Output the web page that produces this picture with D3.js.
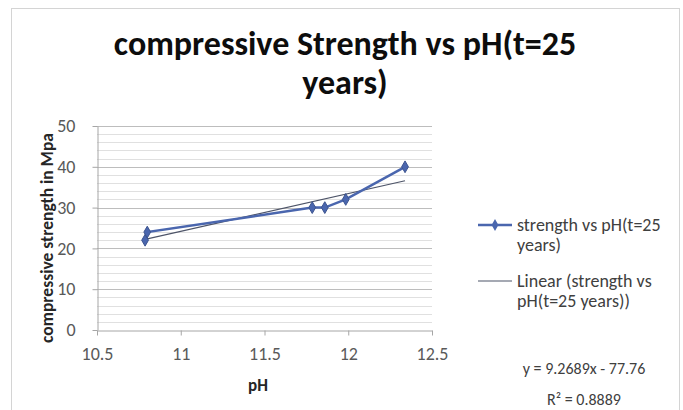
<!DOCTYPE html>
<html>
<head>
<meta charset="utf-8">
<script src="https://cdn.jsdelivr.net/npm/d3@7"></script>
<style>
  body { margin: 0; background: #fff; }
  text { font-family: Calibri, Carlito, Lato, "Open Sans", sans-serif; }
</style>
</head>
<body>
<div id="chart"></div>
<script>
// values
const phValues = [10.787, 10.8, 11.785, 11.86, 11.985, 12.339];
const strengthValues = [22, 24, 30, 30, 32, 40];
const xTicks = [10.5, 11, 11.5, 12, 12.5];
const yTicks = [0, 10, 20, 30, 40, 50];
const titleLines = ["compressive Strength vs pH(t=25", "years)"];
const legendLabels = [["strength vs pH(t=25", "years)"], ["Linear (strength vs", "pH(t=25 years))"]];
const equationLines = ["y = 9.2689x - 77.76", "R\u00b2 = 0.8889"];

const data = phValues.map((p, i) => ({ ph: p, strength: strengthValues[i] }));

const W = 683, H = 410;
const plot = { left: 97, right: 432, top: 126, bottom: 330 };
const seriesColor = "#4a66ae";
const trendColor = "#4d5468";

const svg = d3.select("#chart").append("svg")
    .attr("width", W)
    .attr("height", H);

// chart area border
svg.append("rect")
    .attr("x", 11.5).attr("y", 8.5)
    .attr("width", 668).attr("height", 420)
    .attr("fill", "#fff")
    .attr("stroke", "#d4d4d4");

const x = d3.scaleLinear().domain([10.5, 12.5]).range([plot.left, plot.right]);
const y = d3.scaleLinear().domain([0, 50]).range([plot.bottom, plot.top]);

// gridlines: minor every 2, major every 10
const minor = d3.range(2, 51, 2).filter(v => v % 10 !== 0);
svg.append("g").selectAll("line")
    .data(minor)
  .enter().append("line")
    .attr("x1", plot.left).attr("x2", plot.right)
    .attr("y1", d => Math.round(y(d)) + 0.5).attr("y2", d => Math.round(y(d)) + 0.5)
    .attr("stroke", "#e0e0e0");
svg.append("g").selectAll("line")
    .data(yTicks.filter(v => v > 0))
  .enter().append("line")
    .attr("x1", plot.left).attr("x2", plot.right)
    .attr("y1", d => Math.round(y(d)) + 0.5).attr("y2", d => Math.round(y(d)) + 0.5)
    .attr("stroke", "#bdbdbd");

// axes
const xAxis = svg.append("g")
    .attr("transform", "translate(0," + (plot.bottom + 0.5) + ")")
    .call(d3.axisBottom(x).tickValues(xTicks).tickSize(5).tickSizeOuter(0).tickPadding(12).tickFormat(d3.format("")));
const yAxis = svg.append("g")
    .attr("transform", "translate(" + (plot.left + 0.5) + ",0)")
    .call(d3.axisLeft(y).tickValues(yTicks).tickSize(5).tickSizeOuter(0).tickPadding(17));

[xAxis, yAxis].forEach(a => {
    a.select(".domain").attr("stroke", "#a6a6a6");
    a.selectAll(".tick line").attr("stroke", "#a6a6a6");
    a.selectAll(".tick text")
        .attr("fill", "#595959")
        .style("font-size", "18px");
});

// axis titles
svg.append("text")
    .attr("x", 258)
    .attr("y", 391)
    .attr("text-anchor", "middle")
    .style("font-size", "17px")
    .style("font-weight", "bold")
    .attr("fill", "#262626")
    .text("pH");

svg.append("text")
    .attr("transform", "translate(53,238) rotate(-90)")
    .attr("text-anchor", "middle")
    .style("font-size", "17.5px")
    .style("font-weight", "bold")
    .attr("fill", "#262626")
    .text("compressive strength in Mpa");

// title
svg.append("g").selectAll("text")
    .data(titleLines)
  .enter().append("text")
    .attr("x", 345)
    .attr("y", (d, i) => 55 + i * 39)
    .attr("text-anchor", "middle")
    .style("font-size", "34px")
    .style("font-weight", "bold")
    .attr("fill", "#0d0d0d")
    .text(d => d);

// linear trendline (least squares)
const mx = d3.mean(data, d => d.ph), my = d3.mean(data, d => d.strength);
const slope = d3.sum(data, d => (d.ph - mx) * (d.strength - my)) / d3.sum(data, d => (d.ph - mx) ** 2);
const intercept = my - slope * mx;
const xr = d3.extent(data, d => d.ph);

svg.append("line")
    .attr("x1", x(xr[0])).attr("y1", y(slope * xr[0] + intercept))
    .attr("x2", x(xr[1])).attr("y2", y(slope * xr[1] + intercept))
    .attr("stroke", trendColor)
    .attr("stroke-width", 1.2);

// series line and markers
const line = d3.line().x(d => x(d.ph)).y(d => y(d.strength));
svg.append("path")
    .datum(data)
    .attr("d", line)
    .attr("fill", "none")
    .attr("stroke", seriesColor)
    .attr("stroke-width", 2.5);

const diamond = d3.symbol().type(d3.symbolDiamond).size(40);
svg.append("g").selectAll("path")
    .data(data)
  .enter().append("path")
    .attr("d", diamond)
    .attr("transform", d => "translate(" + x(d.ph) + "," + y(d.strength) + ")")
    .attr("fill", seriesColor)
    .attr("stroke", "#3d548f");

// legend
const legend = svg.append("g");
legend.append("line")
    .attr("x1", 478).attr("x2", 512).attr("y1", 225).attr("y2", 225)
    .attr("stroke", seriesColor).attr("stroke-width", 2.5);
legend.append("path")
    .attr("d", diamond)
    .attr("transform", "translate(495,225)")
    .attr("fill", seriesColor);
legend.append("line")
    .attr("x1", 478).attr("x2", 512).attr("y1", 281).attr("y2", 281)
    .attr("stroke", trendColor).attr("stroke-width", 1.2);

legendLabels.forEach((lines, k) => {
    lines.forEach((t, i) => {
        legend.append("text")
            .attr("x", 517)
            .attr("y", 231 + k * 56 + i * 20)
            .style("font-size", "18px")
            .attr("fill", "#404040")
            .text(t);
    });
});

// trendline equation
svg.append("g").selectAll("text")
    .data(equationLines)
  .enter().append("text")
    .attr("x", 584)
    .attr("y", (d, i) => 374 + i * 31)
    .attr("text-anchor", "middle")
    .style("font-size", "16px")
    .attr("fill", "#404040")
    .text(d => d);
</script>
</body>
</html>
